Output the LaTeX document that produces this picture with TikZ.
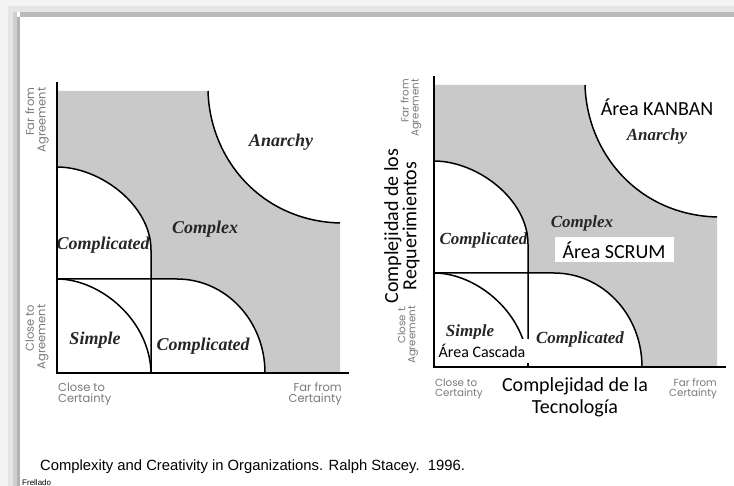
\documentclass[tikz,border=0pt]{standalone}
\usepackage{fontspec}
\newfontfamily\bookfont{Liberation Serif}
\newfontfamily\gothicfont{Poppins}
\newfontfamily\calibrifont{Carlito}
\newfontfamily\arialfont{Liberation Sans}
\definecolor{zonegray}{HTML}{C9C9C9}
\definecolor{labelgray}{HTML}{7A7A7A}
\tikzset{
  zone/.style={font=\bookfont\bfseries\itshape\fontsize{18}{18}\selectfont, text=black!85},
  smallzone/.style={zone, font=\bookfont\bfseries\itshape\fontsize{17}{17}\selectfont},
  axislabel/.style={font=\gothicfont\fontsize{11.5}{11.5}\selectfont, text=labelgray, inner sep=0pt},
  tinylabel/.style={axislabel, font=\gothicfont\fontsize{10.3}{10}\selectfont},
  area/.style={font=\calibrifont\fontsize{20}{22}\selectfont, inner sep=0pt},
  areabox/.style={area, fill=white, inner sep=0pt},
  border/.style={line width=1.5pt},
  axis/.style={line width=2.4pt},
}

\begin{document}
\begin{tikzpicture}[x=1pt,y=-1pt]
\useasboundingbox (0,0) rectangle (734,486);
\fill[white] (0,0) rectangle (734,486);
% slide frame
\fill[gray!9] (0,0) rectangle (734,6);
\fill[gray!20] (8,6) rectangle (734,12);
\fill[gray!55] (20,12) rectangle (734,17);
\fill[gray!9] (0,0) rectangle (8,486);
\fill[gray!20] (8,6) rectangle (13,486);
\fill[gray!38] (13,12) rectangle (17,486);
\fill[gray!60] (17,17) rectangle (20,486);

% the two Stacey matrices, the second one shifted right
\foreach \dx/\dy in {0/0,377/-6}{
\begin{scope}[shift={(\dx,\dy)}]
  \fill[zonegray] (57,91) -- (208,91) .. controls (210,160) and (262,221) .. (340,223)
    -- (340,373) -- (57,373) -- cycle;
  \fill[white] (57,167) .. controls (100,167) and (151,205) .. (151,250) -- (151,279)
    -- (177,279) .. controls (225,279) and (265,320) .. (265,373) -- (57,373) -- cycle;
\end{scope}
}

% left matrix
\node[zone] (anarchyL) at (281,142) {Anarchy};
\node[zone] (complexL) at (205,229) {Complex};
\node[zone] (complicatedL) at (103,245) {Complicated};
\node[zone] (simpleL) at (95,340) {Simple};
\node[zone] (complicatedR) at (203,346) {Complicated};
\node[axislabel, rotate=90, align=right] (farAgreeL) at (37,120) {Far from\\Agreement};
\node[axislabel, rotate=90, align=right] (closeAgreeL) at (37,337) {Close to\\Agreement};
\node[axislabel, anchor=west, align=left] (closeCertL) at (58,394) {Close to\\Certainty};
\node[axislabel, anchor=east, align=right] (farCertL) at (342,394) {Far from\\Certainty};

% right matrix
\node[area] (kanban) at (657,107) {Área KANBAN};
\node[smallzone] (anarchyM) at (657,136) {Anarchy};
\node[smallzone] (complexM) at (582,223) {Complex};
\node[smallzone, anchor=west] (complicatedM) at (436,240) {Complicated};
\node[smallzone] (simpleM) at (470,332) {Simple};
\node[smallzone] (complicatedN) at (580,339) {Complicated};
\node[tinylabel, rotate=90, align=right] (farAgreeM) at (411,108) {Far from\\Agreement};
\node[tinylabel, rotate=90, align=right] (closeAgreeM) at (408,335) {Close t.\\Agreement};
\node[tinylabel, anchor=west, align=left] (closeCertM) at (435,389) {Close to\\Certainty};
\node[tinylabel, anchor=east, align=right] (farCertM) at (717,389) {Far from\\Certainty};
\node[area, rotate=90, align=center, font=\calibrifont\fontsize{20}{17}\selectfont] (requisitos) at (402,226) {Complejidad de los\\Requerimientos};
\node[area, align=center, font=\calibrifont\fontsize{20}{22}\selectfont] (tecnologia) at (575,397) {Complejidad de la\\Tecnología};

% boundaries and axes
\foreach \dx/\dy in {0/0,377/-6}{
\begin{scope}[shift={(\dx,\dy)}]
  \draw[border] (208,91) .. controls (210,160) and (262,221) .. (340,223);
  \draw[border] (57,167) .. controls (100,167) and (151,205) .. (151,250) -- (151,373);
  \draw[border] (57,279) -- (177,279) .. controls (225,279) and (265,320) .. (265,373);
  \draw[border] (57,279) .. controls (100,279) and (150,320) .. (151,373);
  \draw[axis] (57,82) -- (57,373) -- (349,373);
\end{scope}
}

\node[areabox, minimum width=119, minimum height=25] (scrum) at (614,250) {Área SCRUM};
\node[areabox, font=\calibrifont\fontsize{16}{16}\selectfont, minimum width=95, minimum height=24] (cascada) at (482,351) {Área Cascada};

% source line
\node[anchor=west, font=\arialfont\fontsize{14.8}{14.8}\selectfont, inner sep=0pt] (source) at (40,467)
  {Complexity and Creativity in Organizations. Ralph Stacey.~~1996.};
\node[anchor=base west, font=\arialfont\fontsize{8}{8}\selectfont, inner sep=0pt] (author) at (22,485.5) {Frellado};
\end{tikzpicture}
\end{document}
